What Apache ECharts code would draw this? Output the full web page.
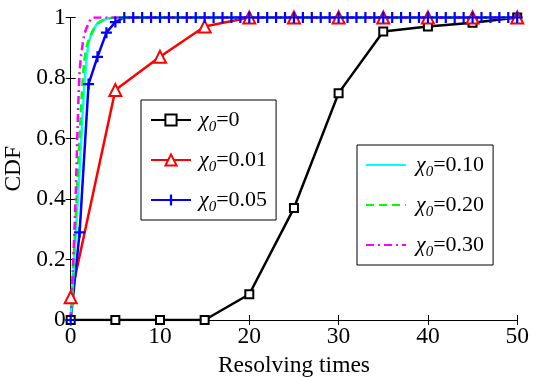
<!DOCTYPE html>
<html>
<head>
<meta charset="utf-8">
<script src="https://cdn.jsdelivr.net/npm/echarts@6/dist/echarts.min.js"></script>
<style>
html,body{margin:0;padding:0;background:#fff}
#chart{width:541px;height:377px}
</style>
</head>
<body>
<div id="chart"></div>
<script>
// resolving times (x) and CDF values
const xCoarse = [0, 5, 10, 15, 20, 25, 30, 35, 40, 45, 50]
const yChi0 = [0, 0, 0, 0, 0.085, 0.37, 0.75, 0.954, 0.97, 0.983, 1]
const yChi001 = [0.075, 0.76, 0.87, 0.97, 1, 1, 1, 1, 1, 1, 1]

const xChi005 = [0, 1, 2, 3, 4, 5, 6, 7, 8, 9, 10, 11, 12, 13, 14, 15, 16, 17, 18, 19, 20,
  21, 22, 23, 24, 25, 26, 27, 28, 29, 30, 31, 32, 33, 34, 35, 36, 37, 38, 39, 40,
  41, 42, 43, 44, 45, 46, 47, 48, 49, 50]
const yChi005 = [0, 0.29, 0.78, 0.87, 0.95, 0.985, 1, 1, 1, 1, 1, 1, 1, 1, 1, 1, 1, 1, 1, 1, 1,
  1, 1, 1, 1, 1, 1, 1, 1, 1, 1, 1, 1, 1, 1, 1, 1, 1, 1, 1, 1,
  1, 1, 1, 1, 1, 1, 1, 1, 1, 1]

const xChi010 = [0, 0.5, 1, 1.5, 2, 2.5, 3, 4, 5, 50]
const yChi010 = [0, 0.25, 0.5, 0.76, 0.915, 0.955, 0.98, 0.995, 1, 1]

const xChi020 = [0, 0.5, 1, 1.5, 2, 3, 4, 5, 50]
const yChi020 = [0, 0.3, 0.61, 0.85, 0.925, 0.98, 0.995, 1, 1]

const xChi030 = [0, 0.5, 1, 1.5, 2, 2.5, 50]
const yChi030 = [0, 0.36, 0.82, 0.94, 0.98, 1, 1]

const xTicks = [0, 10, 20, 30, 40, 50]
const yTickLabels = ['0', '0.2', '0.4', '0.6', '0.8', '1']

const serif = 'Liberation Serif'

function pairs(xs, ys) {
  return xs.map((x, i) => [x, ys[i]])
}

const plusPath = 'path://M4,0H6V10H4ZM0,4H10V6H0Z'

function legendText(name) {
  return '{g|χ}{s|0}{t|' + name.slice(2) + '}'
}

const legendRich = {
  g: { fontFamily: serif, fontStyle: 'italic', fontSize: 22, color: '#000' },
  s: { fontFamily: serif, fontStyle: 'italic', fontSize: 15, color: '#000', padding: [15, 0, 0, 0] },
  t: { fontFamily: serif, fontSize: 22, color: '#000' }
}

const chart = echarts.init(document.getElementById('chart'))

const baseAxis = {
  axisLine: { lineStyle: { color: '#000', width: 1 } },
  axisTick: { inside: true, length: 5, lineStyle: { color: '#000' } },
  splitLine: { show: false }
}

const option = {
  animation: false,
  backgroundColor: '#fff',
  grid: { left: 70.7, right: 23.8, top: 17.5, bottom: 57, outerBoundsMode: 'none', containLabel: false },
  xAxis: [
    Object.assign({}, baseAxis, {
      type: 'value', min: 0, max: 50, interval: 10,
      name: 'Resolving times', nameLocation: 'middle', nameGap: 24,
      nameTextStyle: { fontFamily: serif, fontSize: 23.5, color: '#000' },
      axisLabel: { fontFamily: serif, fontSize: 23.5, color: '#000', margin: 5,
        formatter: v => xTicks.includes(v) ? String(v) : '' }
    }),
    Object.assign({}, baseAxis, {
      type: 'value', min: 0, max: 50, interval: 10, position: 'top',
      axisLabel: { show: false }
    })
  ],
  yAxis: [
    Object.assign({}, baseAxis, {
      type: 'value', min: 0, max: 1, interval: 0.2,
      name: 'CDF', nameLocation: 'middle', nameGap: 44,
      nameTextStyle: { fontFamily: serif, fontSize: 23.5, color: '#000' },
      axisLabel: { fontFamily: serif, fontSize: 23.5, color: '#000', margin: 5,
        formatter: (v, i) => yTickLabels[i] }
    }),
    Object.assign({}, baseAxis, {
      type: 'value', min: 0, max: 1, interval: 0.2, position: 'right',
      axisLabel: { show: false }
    })
  ],
  legend: [
    {
      data: ['χ0=0', 'χ0=0.01', 'χ0=0.05'],
      orient: 'vertical', left: 141, top: 100,
      itemWidth: 40, itemHeight: 14, itemGap: 14,
      padding: [9, 9, 5, 9],
      borderColor: '#000', borderWidth: 1, backgroundColor: '#fff',
      formatter: legendText,
      textStyle: { rich: legendRich, padding: [0, 0, 0, 3] }
    },
    {
      data: ['χ0=0.10', 'χ0=0.20', 'χ0=0.30'],
      orient: 'vertical', left: 357, top: 145,
      itemWidth: 40, itemHeight: 14, itemGap: 14,
      padding: [9, 9, 5, 8],
      borderColor: '#000', borderWidth: 1, backgroundColor: '#fff',
      itemStyle: { opacity: 0 },
      formatter: legendText,
      textStyle: { rich: legendRich, padding: [0, 0, 0, 5] }
    }
  ],
  series: [
    {
      name: 'χ0=0', type: 'line', data: pairs(xCoarse, yChi0),
      symbol: 'rect', symbolSize: 8,
      lineStyle: { color: '#000', width: 2.5 },
      itemStyle: { color: '#fff', borderColor: '#000', borderWidth: 2 }
    },
    {
      name: 'χ0=0.01', type: 'line', data: pairs(xCoarse, yChi001),
      symbol: 'triangle', symbolSize: 12,
      lineStyle: { color: '#ff0000', width: 2.5 },
      itemStyle: { color: '#fff', borderColor: '#ff0000', borderWidth: 2 }
    },
    {
      name: 'χ0=0.05', type: 'line', data: pairs(xChi005, yChi005),
      symbol: plusPath, symbolSize: 11,
      lineStyle: { color: '#0000ff', width: 2.5 },
      itemStyle: { color: '#0000ff' }
    },
    {
      name: 'χ0=0.10', type: 'line', data: pairs(xChi010, yChi010),
      symbol: 'none', smooth: 0.3,
      lineStyle: { color: '#00ffff', width: 2.5 },
      itemStyle: { color: '#00ffff' }
    },
    {
      name: 'χ0=0.20', type: 'line', data: pairs(xChi020, yChi020),
      symbol: 'none', smooth: 0.3,
      lineStyle: { color: '#00ff00', width: 2.5, type: [8, 5] },
      itemStyle: { color: '#00ff00' }
    },
    {
      name: 'χ0=0.30', type: 'line', data: pairs(xChi030, yChi030),
      symbol: 'none', smooth: 0.3,
      lineStyle: { color: '#ff00ff', width: 2.5, type: [8, 4, 2, 4] },
      itemStyle: { color: '#ff00ff' }
    }
  ]
}

chart.setOption(option)
</script>
</body>
</html>
